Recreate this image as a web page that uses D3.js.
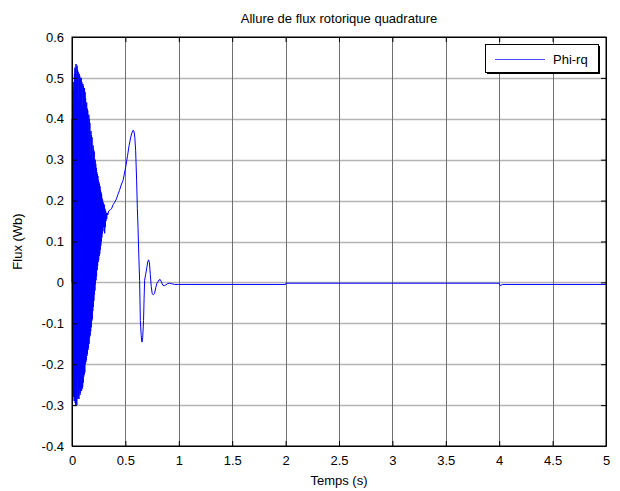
<!DOCTYPE html>
<html><head><meta charset="utf-8">
<script src="https://cdn.jsdelivr.net/npm/d3@7"></script>
<style>body{margin:0;background:#fff}svg{display:block}text{font-family:"Liberation Sans",Arial,sans-serif;fill:#000}</style>
</head><body><svg id="c" width="620" height="491"></svg>
<script>
// Data
const timeS = [
 0,0.0025,0.005,0.0075,0.01,0.0125,0.015,0.0175,0.02,0.0225,0.025,0.0275,0.03,0.0325,0.035,0.0375,0.04,0.0425,0.045,0.0475,
 0.05,0.0525,0.055,0.0575,0.06,0.0625,0.065,0.0675,0.07,0.0725,0.075,0.0775,0.08,0.0825,0.085,0.0875,0.09,0.0925,0.095,0.0975,
 0.1,0.1025,0.105,0.1075,0.11,0.1125,0.115,0.1175,0.12,0.1225,0.125,0.1275,0.13,0.1325,0.135,0.1375,0.14,0.1425,0.145,0.1475,
 0.15,0.1525,0.155,0.1575,0.16,0.1625,0.165,0.1675,0.17,0.1725,0.175,0.1775,0.18,0.1825,0.185,0.1875,0.19,0.1925,0.195,0.1975,
 0.2,0.2025,0.205,0.2075,0.21,0.2125,0.215,0.2175,0.22,0.2225,0.225,0.2275,0.23,0.2325,0.235,0.2375,0.24,0.2425,0.245,0.2475,
 0.25,0.2525,0.255,0.2575,0.26,0.2625,0.265,0.2675,0.27,0.2725,0.275,0.2775,0.28,0.2825,0.285,0.2875,0.29,0.2925,0.295,0.2975,
 0.3,0.303,0.306,0.309,0.312,0.315,0.318,0.321,0.325,0.33,0.335,0.345,0.36,0.37,0.385,0.40,0.416,0.43,0.445,0.46,0.478,0.49,0.505,0.52,0.535,0.55,0.56,0.571,0.58,0.588,0.596,
 0.605,0.612,0.618,0.625,0.633,0.64,0.648,0.655,0.662,0.67,0.675,0.68,0.69,0.701,0.709,0.717,0.725,0.733,0.742,0.751,0.762,0.773,0.785,0.795,0.804,0.815,0.826,0.838,0.85,0.865,0.88,0.895,0.912,0.93,0.96,
 1.0,2.0,2.002,4.0,4.01,4.03,5.0];
const phiRq = [
 0,0.40,-0.25,0.44,-0.27,0.47,-0.28,0.49,-0.29,0.51,-0.285,0.525,-0.295,0.52,-0.30,0.534,-0.295,0.50,-0.30,0.53,
 -0.24,0.52,-0.285,0.515,-0.28,0.44,-0.285,0.51,-0.26,0.505,-0.275,0.50,-0.27,0.47,-0.21,0.50,-0.265,0.49,-0.26,0.43,
 -0.255,0.485,-0.245,0.48,-0.23,0.40,-0.225,0.475,-0.22,0.465,-0.20,0.45,-0.195,0.36,-0.19,0.44,-0.18,0.425,-0.175,0.42,
 -0.165,0.35,-0.16,0.41,-0.15,0.40,-0.135,0.39,-0.13,0.31,-0.12,0.37,-0.11,0.36,-0.095,0.355,-0.09,0.30,-0.07,0.335,
 -0.06,0.325,-0.045,0.32,-0.03,0.25,-0.02,0.30,-0.005,0.29,0.005,0.28,0.015,0.27,0.03,0.265,0.04,0.26,0.05,0.25,
 0.055,0.245,0.065,0.24,0.07,0.235,0.08,0.225,0.09,0.22,0.10,0.215,0.11,0.205,0.12,0.20,0.125,0.195,0.135,0.19,
 0.14,0.19,0.12,0.18,0.135,0.175,0.15,0.17,0.155,0.17,0.165,0.175,0.178,0.18,0.19,0.196,0.204,0.215,0.225,0.238,0.249,0.265,0.285,0.31,0.335,0.355,0.365,0.372,0.37,0.355,0.322,
 0.25,0.18,0.135,0.07,0.005,-0.093,-0.13,-0.146,-0.135,-0.093,-0.04,0.005,0.02,0.037,0.05,0.055,0.048,0.02,-0.01,-0.028,-0.03,-0.027,-0.012,-0.002,0.001,0.006,0.007,0.001,-0.007,-0.008,-0.006,-0.003,-0.002,-0.003,-0.005,
 -0.005,-0.005,-0.002,-0.002,-0.008,-0.005,-0.005];
const xTicks = [0,0.5,1,1.5,2,2.5,3,3.5,4,4.5,5];
const yTicks = [-0.4,-0.3,-0.2,-0.1,0,0.1,0.2,0.3,0.4,0.5,0.6];
const titleText = "Allure de flux rotorique quadrature";
const xLabel = "Temps (s)";
const yLabel = "Flux (Wb)";
const seriesName = "Phi-rq";

const L=72, R=606, T=37, B=446;
const svg = d3.select("#c");
const x = d3.scaleLinear().domain([0,5]).range([L,R]);
const y = d3.scaleLinear().domain([-0.4,0.6]).range([B,T]);

svg.append("rect").attr("x",0).attr("y",0).attr("width",620).attr("height",491).attr("fill","#fff");

// grid
const g = svg.append("g");
g.selectAll("line.gy").data(yTicks.slice(1,-1)).join("line")
 .attr("x1",L).attr("x2",R).attr("y1",d=>Math.round(y(d))+0.5).attr("y2",d=>Math.round(y(d))+0.5)
 .attr("stroke","#b4b4b4").attr("stroke-width",1.4);
g.selectAll("line.gx").data(xTicks.slice(1,-1)).join("line")
 .attr("y1",T).attr("y2",B).attr("x1",d=>Math.round(x(d))+0.5).attr("x2",d=>Math.round(x(d))+0.5)
 .attr("stroke","#707070").attr("stroke-width",1);

// data line
const pts = timeS.map((t,i)=>[t,phiRq[i]]);
svg.append("path").datum(pts)
 .attr("d", d3.line().x(d=>x(d[0])).y(d=>y(d[1])))
 .attr("fill","none").attr("stroke","#0000ff").attr("stroke-width",1);

// axes (ticks inward)
const ax = d3.axisBottom(x).tickValues(xTicks).tickFormat(d=>String(d)).tickSizeInner(-5).tickSizeOuter(0).tickPadding(10);
const ay = d3.axisLeft(y).tickValues(yTicks).tickFormat(d=>String(d)).tickSizeInner(-5).tickSizeOuter(0).tickPadding(8);
const axT = d3.axisTop(x).tickValues(xTicks).tickFormat("").tickSizeInner(-5).tickSizeOuter(0);
const ayR = d3.axisRight(y).tickValues(yTicks).tickFormat("").tickSizeInner(-5).tickSizeOuter(0);
function style(sel){sel.selectAll("path").attr("stroke","#000");sel.selectAll("line").attr("stroke","#000");sel.selectAll("text").attr("font-size","13px").attr("font-family","Liberation Sans, Arial, sans-serif").attr("fill","#000");}
svg.append("g").attr("transform",`translate(0,${B})`).call(ax).call(style);
svg.append("g").attr("transform",`translate(${L},0)`).call(ay).call(style);
svg.append("g").attr("transform",`translate(0,${T})`).call(axT).call(style);
svg.append("g").attr("transform",`translate(${R},0)`).call(ayR).call(style);
svg.append("rect").attr("x",L).attr("y",T).attr("width",R-L).attr("height",B-T).attr("fill","none").attr("stroke","#000").attr("stroke-width",1);

// labels
svg.append("text").attr("x",(L+R)/2).attr("y",23).attr("text-anchor","middle").attr("font-size","13px").text(titleText);
svg.append("text").attr("x",(L+R)/2).attr("y",485).attr("text-anchor","middle").attr("font-size","13px").text(xLabel);
svg.append("text").attr("transform",`translate(22,${(T+B)/2}) rotate(-90)`).attr("text-anchor","middle").attr("font-size","13px").text(yLabel);

// legend
const lg = svg.append("g");
lg.append("rect").attr("x",485.5).attr("y",44.5).attr("width",113).attr("height",28).attr("fill","#fff").attr("stroke","#000");
lg.append("line").attr("x1",599.5).attr("x2",599.5).attr("y1",46).attr("y2",74).attr("stroke","#000");
lg.append("line").attr("x1",487).attr("x2",600).attr("y1",73.5).attr("y2",73.5).attr("stroke","#000");
lg.append("line").attr("x1",495).attr("x2",545).attr("y1",59.5).attr("y2",59.5).attr("stroke","#4a4aff").attr("stroke-width",1);
lg.append("text").attr("x",553).attr("y",64).attr("font-size","13px").text(seriesName);
</script></body></html>
